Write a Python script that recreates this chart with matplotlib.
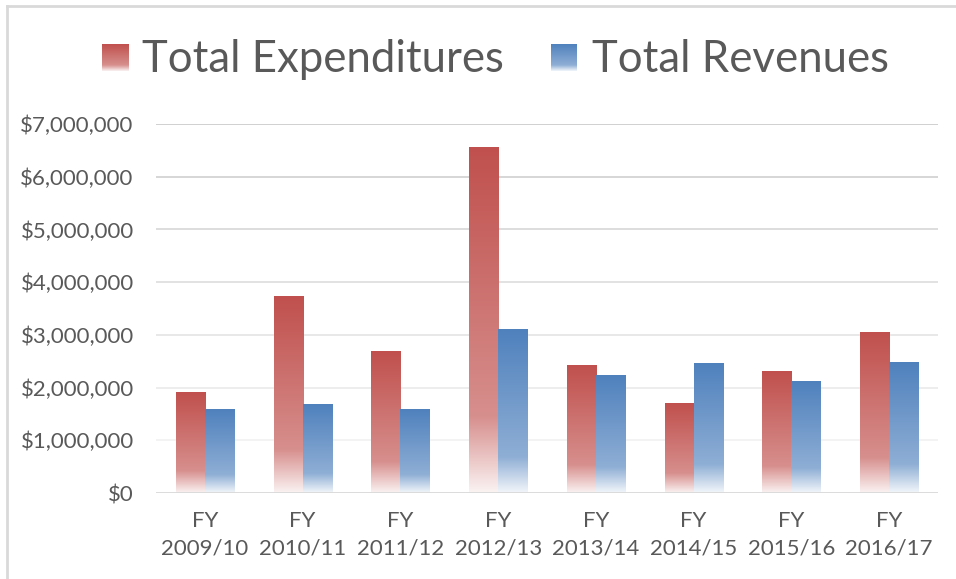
import numpy as np
import matplotlib
from matplotlib import pyplot as plt
from matplotlib.colors import to_rgb
from matplotlib.lines import Line2D
from matplotlib.ticker import FuncFormatter

matplotlib.use("Agg")

years = ["2009/10", "2010/11", "2011/12", "2012/13",
         "2013/14", "2014/15", "2015/16", "2016/17"]
tick_labels = ["FY\n" + y for y in years]

expenditures = [1_900_000, 3_720_000, 2_690_000, 6_550_000,
                2_410_000, 1_690_000, 2_310_000, 3_040_000]
revenues = [1_590_000, 1_670_000, 1_590_000, 3_110_000,
            2_220_000, 2_450_000, 2_120_000, 2_470_000]

series_names = ["Total Expenditures", "Total Revenues"]
series_colors = ["#C0504D", "#4F81BD"]

TEXT = "#595959"
plt.rcParams["font.family"] = ["Lato", "DejaVu Sans"]


def gradient(color, n=256):
    # full colour at the top, paler lower down, nearly white at the foot
    base = np.array(to_rgb(color))
    t = np.linspace(0, 1, n)
    mix = np.interp(t, [0, 0.78, 1.0], [0, 0.36, 0.93])
    rgb = base[None, :] * (1 - mix[:, None]) + mix[:, None]
    return rgb[:, None, :]


def fill_bars(ax, bars, color):
    img = gradient(color)
    for b in bars:
        x0, y0 = b.get_x(), b.get_y()
        w, h = b.get_width(), b.get_height()
        ax.imshow(img, extent=(x0, x0 + w, y0, y0 + h), aspect="auto",
                  interpolation="bilinear", zorder=2)


fig = plt.figure(figsize=(9.56, 5.79), dpi=100)
ax = fig.add_axes([156 / 956, 1 - 493 / 579, 782 / 956, 369 / 579])

x = np.arange(len(years))
width = 0.297
for i, (vals, color) in enumerate(zip([expenditures, revenues], series_colors)):
    offset = (i - 0.5) * width
    bars = ax.bar(x + offset, vals, width, color="none", linewidth=0)
    fill_bars(ax, bars, color)

# horizontal grid, darker towards the top
yticks = np.arange(0, 8_000_000, 1_000_000)
for v in yticks[1:]:
    g = np.interp(v, [1e6, 7e6], [0.94, 0.77])
    ax.axhline(v, color=(g, g, g), lw=1.1, zorder=1)
ax.axhline(0, color="#D9D9D9", lw=1.3, zorder=3)

ax.set_xlim(-0.5, len(years) - 0.5)
ax.set_ylim(0, 7_000_000)
ax.set_yticks(yticks)
ax.yaxis.set_major_formatter(FuncFormatter(lambda v, _: f"${v:,.0f}"))
ax.set_xticks(x)
ax.set_xticklabels(tick_labels, linespacing=1.45)
ax.tick_params(axis="y", length=0, pad=16, labelsize=16, labelcolor=TEXT)
ax.tick_params(axis="x", length=0, pad=13, labelsize=16, labelcolor=TEXT)
for s in ax.spines.values():
    s.set_visible(False)

# legend: gradient swatches with large labels
legend_pos = [(102, 142), (551, 592)]
for (sx, tx), name, color in zip(legend_pos, series_names, series_colors):
    sw = fig.add_axes([sx / 956, 1 - 71 / 579, 26 / 956, 27 / 579])
    sw.imshow(gradient(color), aspect="auto", extent=(0, 1, 0, 1),
              interpolation="bilinear")
    sw.axis("off")
    fig.text(tx / 956, 1 - 72 / 579, name, fontsize=31.5, color=TEXT,
             va="baseline", ha="left")

# outer frame (left and top edges)
frame = "#D9D9D9"
fig.add_artist(Line2D([6.5 / 956, 6.5 / 956], [0, 1 - 5.5 / 579],
                      color=frame, lw=2))
fig.add_artist(Line2D([6.5 / 956, 1], [1 - 5.5 / 579, 1 - 5.5 / 579],
                      color=frame, lw=2))

fig.savefig("out.png", dpi=100)
